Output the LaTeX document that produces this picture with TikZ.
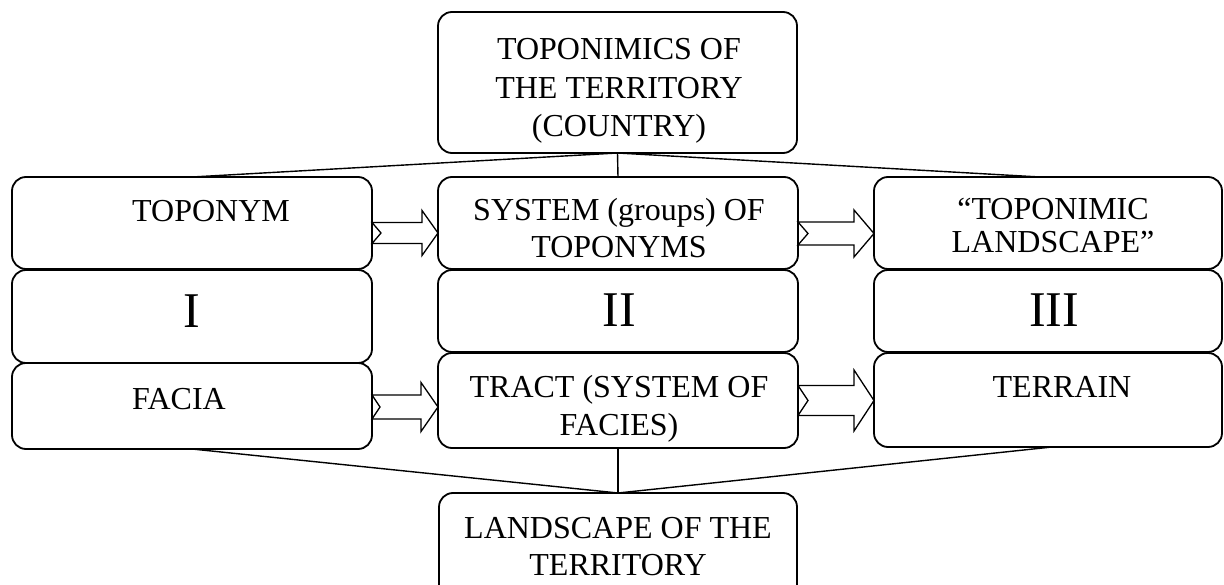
\documentclass[tikz,border=0pt]{standalone}
\usepackage{fontspec}
\setmainfont{Liberation Serif}
\usetikzlibrary{calc}
\newcommand\blockarr[7]{% tail anchor, tip anchor, y centre, shaft half, head half, head length, notch
  \draw[barrow] let \p1=(#1), \p2=(#2) in
    (\x1,{-(#3-#4)*1pt}) -- ({\x2-#6*1pt},{-(#3-#4)*1pt}) -- ({\x2-#6*1pt},{-(#3-#5)*1pt})
    -- (\x2,{-#3*1pt}) -- ({\x2-#6*1pt},{-(#3+#5)*1pt}) -- ({\x2-#6*1pt},{-(#3+#4)*1pt})
    -- (\x1,{-(#3+#4)*1pt}) -- ({\x1+#7*1pt},{-#3*1pt}) -- cycle;}
\begin{document}
\begin{tikzpicture}[x=1pt,y=-1pt,
  box/.style={draw, line width=1.8pt, rounded corners=14pt, inner sep=0pt, outer sep=0pt},
  txt/.style={inner sep=0pt, align=center, font=\fontsize{32}{37}\selectfont},
  roman/.style={inner sep=0pt, font=\fontsize{50}{60}\selectfont},
  link/.style={line width=1.4pt},
  barrow/.style={line width=1.3pt, line join=miter}]
\clip (0,0) rectangle (1224,585);
% boxes
\node[box, minimum width=359pt, minimum height=141pt] (top) at (617.5,82.5) {};
\node[box, minimum width=360pt, minimum height=92pt] (L1) at (192,223) {};
\node[box, minimum width=360pt, minimum height=93pt] (L2) at (192,316.5) {};
\node[box, minimum width=360pt, minimum height=86pt] (L3) at (192,406) {};
\node[box, minimum width=360pt, minimum height=92pt] (M1) at (618,223) {};
\node[box, minimum width=360pt, minimum height=82pt] (M2) at (618,311) {};
\node[box, minimum width=360pt, minimum height=95pt] (M3) at (618,400.5) {};
\node[box, minimum width=348pt, minimum height=92pt] (R1) at (1048,223) {};
\node[box, minimum width=348pt, minimum height=82pt] (R2) at (1048,311) {};
\node[box, minimum width=348pt, minimum height=94pt] (R3) at (1048,400) {};
\node[box, minimum width=358pt, minimum height=120pt] (bot) at (618,553) {};
% texts (base anchor = baseline of the last line)
\node[txt, anchor=base, font=\fontsize{32}{38.5}\selectfont] (tTop) at (619,137) {TOPONIMICS OF\\THE TERRITORY\\(COUNTRY)};
\node[txt, anchor=base west] (tL1) at (132,222) {TOPONYM};
\node[txt, anchor=base] (tM1) at (619,258) {SYSTEM (groups) OF\\TOPONYMS};
\node[txt, anchor=base, font=\fontsize{32}{33}\selectfont] (tR1) at (1053,252.5) {“TOPONIMIC\\LANDSCAPE”};
\node[roman, anchor=base] (tL2) at (192,328) {I};
\node[roman, anchor=base] (tM2) at (619,327) {II};
\node[roman, anchor=base] (tR2) at (1054,327) {III};
\node[txt, anchor=base west] (tL3) at (132,409) {FACIA};
\node[txt, anchor=base] (tM3) at (619,435) {TRACT (SYSTEM OF\\FACIES)};
\node[txt, anchor=base] (tR3) at (1062,397) {TERRAIN};
\node[txt, anchor=base] (tBot) at (618,575.5) {LANDSCAPE OF THE\\TERRITORY};
% connectors
\draw[link] (top.south) -- (L1.north);
\draw[link] (top.south) -- (M1.north);
\draw[link] (top.south) -- ($(R1.north)+(-8,0)$);
\draw[link] (L3.south) -- (bot.north);
\draw[link] (M3.south) -- (bot.north);
\draw[link] ($(R3.south)+(4,0)$) -- (bot.north);
% block arrows
\blockarr{L1.east}{M1.west}{233}{10.5}{22.5}{16}{9}
\blockarr{M1.east}{R1.west}{233.5}{11.5}{23.5}{20}{10}
\blockarr{L3.east}{M3.west}{407}{12}{24.5}{17}{8}
\blockarr{M3.east}{R3.west}{400.5}{15}{30.5}{20}{10}
\end{tikzpicture}
\end{document}
